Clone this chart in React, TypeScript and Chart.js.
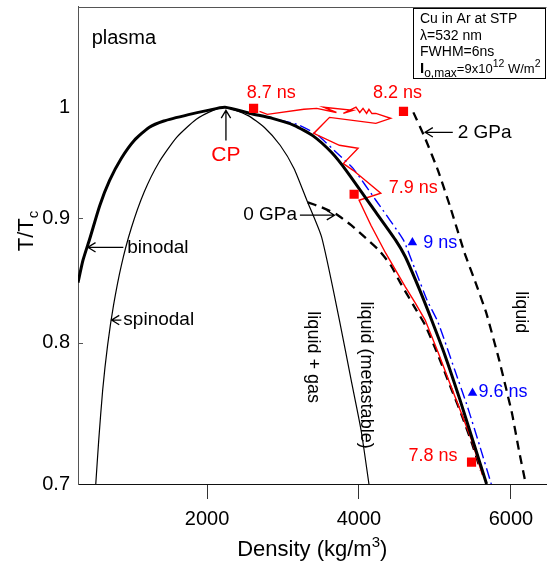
import React, { useEffect, useRef } from "react";
import { Chart, registerables } from "chart.js";
Chart.register(...registerables);

const FONT = '"Liberation Sans", Arial, Helvetica, sans-serif';

// ---------- data (density kg/m^3, T/Tc) ----------
const xTicks = [2000, 4000, 6000];
const xTickLabels = ["2000", "4000", "6000"];
const yTicks = [0.7, 0.8, 0.9, 1];
const yTickLabels = ["0.7", "0.8", "0.9", "1"];

const binodalDensity = [300, 365, 460, 586, 716, 871, 1040, 1235, 1430, 1755, 2010, 2235, 2570, 2860, 3145, 3400, 3640, 3830, 4160, 4480, 4610, 4800, 4960, 5130, 5330, 5520, 5680];
const binodalT = [0.847, 0.865, 0.884, 0.911, 0.933, 0.9528, 0.969, 0.981, 0.987, 0.993, 0.997, 1.0, 0.994, 0.9895, 0.983, 0.973, 0.958, 0.942, 0.911, 0.882, 0.868, 0.841, 0.817, 0.791, 0.758, 0.726, 0.7];

const spinodalDensity = [534, 573, 625, 690, 768, 871, 1001, 1170, 1365, 1599, 1858, 2079, 2235, 2534, 2755, 2962, 3144, 3313, 3508, 3742, 3897, 4027, 4131];
const spinodalT = [0.7, 0.7297, 0.7651, 0.7983, 0.8291, 0.861, 0.8917, 0.9226, 0.949, 0.9718, 0.9886, 0.997, 1.0, 0.9923, 0.981, 0.9646, 0.9437, 0.9157, 0.8842, 0.8175, 0.7723, 0.7367, 0.7];

const gpa0Density = [3326, 3508, 3703, 3897, 4092, 4261, 4417, 4547, 4716, 4871, 5040, 5196, 5352, 5495, 5599];
const gpa0T = [0.9139, 0.9096, 0.9036, 0.8943, 0.8833, 0.8734, 0.8611, 0.8466, 0.8291, 0.8136, 0.7909, 0.7687, 0.7472, 0.7263, 0.7093];

const gpa2Density = [4716, 4871, 5040, 5196, 5391, 5547, 5677, 5846, 6014, 6105, 6196];
const gpa2T = [0.9951, 0.971, 0.942, 0.911, 0.8709, 0.845, 0.8229, 0.7871, 0.7486, 0.7229, 0.7];

const blueDensity = [2690, 3183, 3443, 3742, 3923, 4222, 4586, 4742, 4897, 5040, 5261, 5430, 5586, 5742];
const blueT = [0.9923, 0.9839, 0.9746, 0.9555, 0.9437, 0.9157, 0.8817, 0.857, 0.833, 0.8159, 0.7797, 0.7529, 0.7263, 0.7];

const redDensity = [2690, 2793, 3274, 3443, 3703, 3534, 3923, 3794, 3960, 4010, 4053, 4100, 4131, 4170, 4222, 4417, 4222, 3612, 3404, 3742, 3988, 3794, 3923, 4287, 4001, 4157, 4352, 4482, 4612, 4742, 4871, 5040, 5196, 5352, 5482, 5573, 5625];
const redT = [0.996, 0.9932, 0.998, 0.9989, 0.995, 1.0, 0.997, 0.9941, 1.0, 0.995, 0.9989, 0.9941, 0.998, 0.994, 0.9941, 0.9895, 0.9848, 0.9904, 0.9755, 0.9646, 0.9618, 0.948, 0.942, 0.9218, 0.9157, 0.8943, 0.8709, 0.857, 0.8434, 0.8307, 0.8175, 0.7931, 0.7701, 0.7479, 0.7297, 0.7147, 0.706];

const redMarkDensity = [2612, 4586, 3936, 5482];
const redMarkT = [0.9989, 0.996, 0.9209, 0.7147];
const blueMarkDensity = [4703, 5495];
const blueMarkT = [0.8797, 0.7629];

const pts = (xs: number[], ys: number[]) => xs.map((x, i) => ({ x, y: ys[i] }));

// ---------- drawing helpers ----------
function txt(ctx: CanvasRenderingContext2D, s: string, x: number, y: number, size: number, color: string, align: CanvasTextAlign = "left", rot = 0, weight = "normal") {
  ctx.save();
  ctx.translate(x, y);
  ctx.rotate(rot);
  ctx.font = `${weight} ${size}px ${FONT}`;
  ctx.fillStyle = color;
  ctx.textAlign = align;
  ctx.textBaseline = "middle";
  ctx.fillText(s, 0, 0);
  ctx.restore();
}

// pieces: [text, size, dy, weight]
function rich(ctx: CanvasRenderingContext2D, pieces: [string, number, number, string?][], x: number, y: number, color: string, align: "left" | "center" = "left", rot = 0) {
  ctx.save();
  ctx.translate(x, y);
  ctx.rotate(rot);
  ctx.fillStyle = color;
  ctx.textBaseline = "alphabetic";
  ctx.textAlign = "left";
  let total = 0;
  for (const p of pieces) {
    ctx.font = `${p[3] || "normal"} ${p[1]}px ${FONT}`;
    total += ctx.measureText(p[0]).width;
  }
  let cx = align === "center" ? -total / 2 : 0;
  for (const p of pieces) {
    ctx.font = `${p[3] || "normal"} ${p[1]}px ${FONT}`;
    ctx.fillText(p[0], cx, p[2]);
    cx += ctx.measureText(p[0]).width;
  }
  ctx.restore();
}

function arrow(ctx: CanvasRenderingContext2D, x1: number, y1: number, x2: number, y2: number, color: string) {
  const a = Math.atan2(y2 - y1, x2 - x1);
  const h = 9;
  ctx.save();
  ctx.strokeStyle = color;
  ctx.lineWidth = 1.3;
  ctx.beginPath();
  ctx.moveTo(x1, y1);
  ctx.lineTo(x2, y2);
  ctx.moveTo(x2 - h * Math.cos(a - 0.55), y2 - h * Math.sin(a - 0.55));
  ctx.lineTo(x2, y2);
  ctx.lineTo(x2 - h * Math.cos(a + 0.55), y2 - h * Math.sin(a + 0.55));
  ctx.stroke();
  ctx.restore();
}

const decorPlugin = {
  id: "decor",
  afterDraw(chart: any) {
    const { ctx, chartArea, scales } = chart;
    const X = (v: number) => scales.x.getPixelForValue(v);
    const Y = (v: number) => scales.y.getPixelForValue(v);
    ctx.save();
    // top frame line
    ctx.strokeStyle = "#555";
    ctx.lineWidth = 1;
    ctx.beginPath();
    ctx.moveTo(chartArea.left, Math.round(chartArea.top) + 0.5);
    ctx.lineTo(chartArea.right, Math.round(chartArea.top) + 0.5);
    ctx.stroke();
    // inward y ticks
    for (const v of [0.8, 0.9]) {
      const y = Math.round(Y(v)) + 0.5;
      ctx.beginPath();
      ctx.moveTo(chartArea.left, y);
      ctx.lineTo(chartArea.left + 5, y);
      ctx.stroke();
    }
    ctx.restore();

    // axis titles
    rich(ctx, [["Density (kg/m", 22, 0], ["3", 15, -9], [")", 22, 0]], (chartArea.left + chartArea.right) / 2, 556, "#000", "center");
    rich(ctx, [["T/T", 22, 0], ["c", 15, 5]], 33, 231, "#000", "center", -Math.PI / 2);

    // text annotations
    txt(ctx, "plasma", X(480), Y(1.067), 20, "#000");
    txt(ctx, "binodal", X(949), Y(0.8758), 19, "#000");
    arrow(ctx, X(897), Y(0.8758), X(430), Y(0.8758), "#000");
    txt(ctx, "spinodal", X(897), Y(0.8175), 19, "#000");
    arrow(ctx, X(871), Y(0.8175), X(742), Y(0.8175), "#000");
    arrow(ctx, X(2248), Y(0.969), X(2248), Y(0.997), "#000");
    txt(ctx, "CP", X(2248), Y(0.9555), 21, "#ff0000", "center");
    txt(ctx, "0 GPa", X(2830), Y(0.9028), 19, "#000", "center");
    arrow(ctx, X(3222), Y(0.9028), X(3677), Y(0.9028), "#000");
    txt(ctx, "2 GPa", X(5300), Y(0.9765), 19, "#000");
    arrow(ctx, X(5235), Y(0.9765), X(4871), Y(0.9765), "#000");

    txt(ctx, "8.7 ns", X(2845), Y(1.0131), 18, "#ff0000", "center");
    txt(ctx, "8.2 ns", X(4508), Y(1.0131), 18, "#ff0000", "center");
    txt(ctx, "7.9 ns", X(4391), Y(0.9261), 18, "#ff0000");
    txt(ctx, "7.8 ns", X(4651), Y(0.7188), 18, "#ff0000");
    txt(ctx, "9 ns", X(4845), Y(0.8797), 18, "#0000ff");
    txt(ctx, "9.6 ns", X(5573), Y(0.7636), 18, "#0000ff");

    txt(ctx, "liquid + gas", X(3391), Y(0.7893), 18, "#000", "center", Math.PI / 2);
    txt(ctx, "liquid (metastable)", X(4092), Y(0.776), 18, "#000", "center", Math.PI / 2);
    txt(ctx, "liquid", X(6131), Y(0.8236), 18, "#000", "center", Math.PI / 2);

    // info box
    ctx.save();
    ctx.fillStyle = "#fff";
    ctx.strokeStyle = "#000";
    ctx.lineWidth = 1;
    ctx.fillRect(413.5, 8.5, 132, 70);
    ctx.strokeRect(413.5, 8.5, 132, 70);
    ctx.restore();
    txt(ctx, "Cu in Ar at STP", 420, 19, 14, "#000");
    txt(ctx, "λ=532 nm", 420, 36, 14, "#000");
    txt(ctx, "FWHM=6ns", 420, 52, 14, "#000");
    rich(ctx, [["I", 15, 0, "bold"], ["o,max", 12, 4], ["=9x10", 13, 0], ["12", 10.5, -6], [" W/m", 13, 0], ["2", 10.5, -6]], 420, 73, "#000");
  },
};

export default function App() {
  const ref = useRef<HTMLCanvasElement>(null);
  useEffect(() => {
    document.body.style.margin = "0";
    const line = (data: any, color: string, width: number, order: number, extra: any = {}) => ({
      data,
      showLine: true,
      borderColor: color,
      backgroundColor: color,
      borderWidth: width,
      pointRadius: 0,
      pointHoverRadius: 0,
      order,
      ...extra,
    });
    const chart = new Chart(ref.current!, {
      type: "scatter",
      data: {
        datasets: [
          line(pts(binodalDensity, binodalT), "#000", 3, 1, { tension: 0.2 }),
          line(pts(spinodalDensity, spinodalT), "#000", 1.2, 5, { tension: 0.2 }),
          line(pts(gpa0Density, gpa0T), "#000", 2.3, 4, { tension: 0.2, borderDash: [9, 6] }),
          line(pts(gpa2Density, gpa2T), "#000", 2.3, 4, { tension: 0.1, borderDash: [9, 6] }),
          line(pts(blueDensity, blueT), "#0000ff", 1.4, 3, { tension: 0.15, borderDash: [11, 4, 2, 4] }),
          line(pts(redDensity, redT), "#ff0000", 1.4, 2, { tension: 0 }),
          {
            data: pts(redMarkDensity, redMarkT),
            showLine: false,
            pointStyle: "rect",
            pointRadius: 6.5,
            pointBackgroundColor: "#ff0000",
            pointBorderColor: "#ff0000",
            pointBorderWidth: 0,
            order: 0,
          },
          {
            data: pts(blueMarkDensity, blueMarkT),
            showLine: false,
            pointStyle: "triangle",
            pointRadius: 5.5,
            pointBackgroundColor: "#0000ff",
            pointBorderColor: "#0000ff",
            pointBorderWidth: 0,
            order: 0,
          },
        ],
      },
      options: {
        responsive: false,
        animation: false,
        devicePixelRatio: 1,
        events: [],
        layout: { padding: { top: 5, left: 0, right: 0, bottom: 0 } },
        plugins: { legend: { display: false }, tooltip: { enabled: false } },
        scales: {
          x: {
            type: "linear",
            min: 300,
            max: 6469,
            afterBuildTicks: (s: any) => {
              s.ticks = xTicks.map((v) => ({ value: v }));
            },
            afterFit: (s: any) => {
              s.height = 79;
              s.paddingLeft = 0;
              s.paddingRight = 0;
            },
            ticks: {
              callback: (_v: any, i: number) => xTickLabels[i],
              font: { family: FONT, size: 20 },
              color: "#000",
              padding: 8,
              maxRotation: 0,
              autoSkip: false,
            },
            grid: { drawOnChartArea: false, drawTicks: true, tickLength: 15, color: "#333", lineWidth: 1 },
            border: { display: true, color: "#111", width: 1 },
          },
          y: {
            type: "logarithmic",
            min: 0.7,
            max: 1.1,
            afterBuildTicks: (s: any) => {
              s.ticks = yTicks.map((v) => ({ value: v }));
            },
            afterFit: (s: any) => {
              s.width = 78;
              s.paddingTop = 0;
              s.paddingBottom = 0;
            },
            ticks: {
              callback: (_v: any, i: number) => yTickLabels[i],
              font: { family: FONT, size: 20 },
              color: "#000",
              padding: 8,
              autoSkip: false,
            },
            grid: { drawOnChartArea: false, drawTicks: false },
            border: { display: true, color: "#555", width: 1 },
          },
        },
      },
      plugins: [decorPlugin],
    } as any);
    return () => chart.destroy();
  }, []);
  return (
    <div style={{ width: 553, height: 563 }}>
      <canvas ref={ref} width={553} height={563} style={{ display: "block" }} />
    </div>
  );
}
